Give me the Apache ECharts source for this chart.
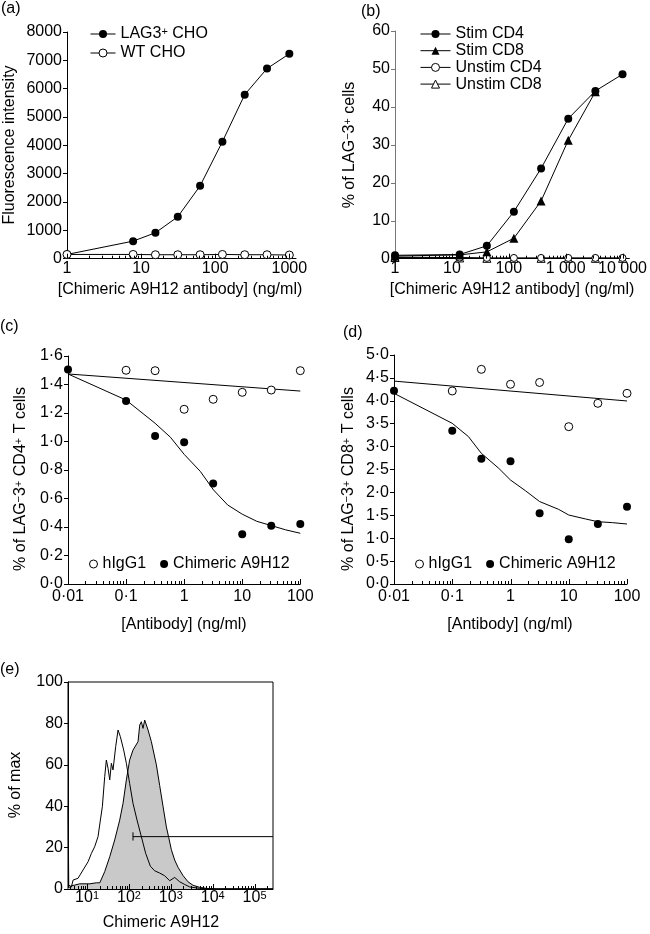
<!DOCTYPE html>
<html><head><meta charset="utf-8">
<script src="https://cdn.jsdelivr.net/npm/echarts@6.0.0/dist/echarts.min.js"></script>
<style>html,body{margin:0;padding:0;background:#fff}#c{width:650px;height:934px}</style>
</head><body><div id="c"></div>
<script>
// ---------- (a) ----------
const aConc = [1, 7.8, 15.6, 31.25, 62.5, 125, 250, 500, 1000];
const aLag3 = [150, 620, 915, 1480, 2570, 4130, 5790, 6710, 7230];
const aWT = [150, 150, 140, 140, 140, 150, 140, 140, 130];
const aXLabels = ['1', '10', '100', '1000'];
const aYLabels = ['0', '1000', '2000', '3000', '4000', '5000', '6000', '7000', '8000'];
// ---------- (b) ----------
const bConc = [1, 13.7, 41.2, 123, 370, 1111, 3333, 10000];
const bStimCD4 = [0.9, 1.1, 3.4, 12.4, 23.8, 36.9, 44.2, 48.6];
const bStimCD8 = [0.7, 1.0, 1.8, 5.4, 15.2, 31.2, 44.0, null];
const bUnstimCD4 = [0.4, 0.3, 0.2, 0.2, 0.2, 0.2, 0.2, 0.2];
const bUnstimCD8 = [0.3, 0.2, 0.1, 0.1, 0.1, 0.1, 0.1, 0.1];
const bXLabels = ['1', '10', '100', '1 000', '10 000'];
const bYLabels = ['0', '10', '20', '30', '40', '50', '60'];
// ---------- (c) / (d) ----------
const cdConc = [0.01, 0.1, 0.316, 1, 3.16, 10, 31.6, 100];
const cIgG = [null, 1.50, 1.497, 1.226, 1.296, 1.345, 1.361, 1.497];
const cChim = [1.506, 1.284, 1.039, 0.994, 0.706, 0.349, 0.409, 0.421];
const cFitX = [0.01, 0.1, 0.316, 0.58, 1.0, 1.9, 3.2, 5.6, 10, 17.8, 31.6, 56, 100];
const cFitChim = [1.474, 1.291, 1.128, 1.03, 0.91, 0.79, 0.66, 0.555, 0.49, 0.44, 0.41, 0.38, 0.356];
const cFitIgGX = [0.01, 100];
const cFitIgG = [1.474, 1.354];
const dIgG = [null, 4.214, 4.687, 4.36, 4.40, 3.435, 3.945, 4.163];
const dChim = [4.221, 3.348, 2.737, 2.678, 1.543, 0.975, 1.31, 1.688];
const dFitX = [0.01, 0.1, 0.19, 0.316, 0.63, 1, 1.8, 3.16, 6.7, 10, 19.4, 31.6, 56, 100];
const dFitChim = [4.163, 3.508, 3.217, 2.853, 2.525, 2.27, 2.038, 1.80, 1.63, 1.506, 1.42, 1.36, 1.34, 1.31];
const dFitIgGX = [0.01, 100];
const dFitIgG = [4.43, 3.996];
const cdXLabels = ['0·01', '0·1', '1', '10', '100'];
const cYLabels = ['0·0', '0·2', '0·4', '0·6', '0·8', '1·0', '1·2', '1·4', '1·6'];
const dYLabels = ['0·0', '0·5', '1·0', '1·5', '2·0', '2·5', '3·0', '3·5', '4·0', '4·5', '5·0'];
// ---------- (e) ----------
const eOpenX = [3.53, 3.65, 4.23, 4.63, 6.10, 8.03, 10.6, 12.7, 15.2, 18.3, 20.8, 23.2, 26.4, 28.9, 31.7, 34.8, 38.1, 41.7, 48.3, 55.0, 62.4, 75.0, 86.8, 104, 125, 156, 198, 251, 325, 412, 542, 714, 940, 1237, 1628, 2143, 2820, 4885, 12210, 274900];
const eOpenY = [40, 2, 1, 4.3, 5.2, 9.2, 13.2, 17.2, 20.4, 25.3, 33.3, 39.8, 54.3, 62.3, 58.3, 52.7, 60.7, 57.5, 68.8, 76.8, 73.6, 67.1, 60.7, 51, 41.4, 33.3, 25.3, 17.2, 11, 8.8, 7.7, 6.4, 4, 5.6, 3.5, 2.2, 1, 0.3, 0, 0];
const eGrayX = [3.53, 4.23, 6.68, 11.6, 16.7, 20.1, 26.4, 34.8, 45.7, 60.2, 72.3, 86.8, 104, 125, 165, 181, 198, 217, 238, 261, 286, 343, 452, 542, 651, 783, 889, 1030, 1237, 1485, 1956, 2574, 3388, 4885, 7047, 12210, 274900];
const eGrayY = [0.5, 1.5, 2.5, 2.5, 3, 3, 8.4, 15.6, 23.7, 33.3, 41.4, 52.7, 62.3, 67.1, 71.2, 79.2, 80.8, 77.6, 81.6, 82.4, 76.8, 71.2, 60, 50, 40, 30, 25, 19, 14, 10.5, 6.5, 3.5, 1.8, 0.8, 0.3, 0, 0];
const eGateX = [125, 274900];
const eGateY = [25.3, 25.3];
const eGateTickX = [125, 125];
const eGateTickY = [23.4, 27.4];
const eXExponents = ['1', '2', '3', '4', '5'];
const eYLabels = ['0', '20', '40', '60', '80', '100'];

// ---------- build ----------
const FF = 'Liberation Sans';
const FS = 16;
const L = Math.log10;
const SUP = { fontSize: 11, lineHeight: 6, verticalAlign: 'top' };

function pts(xs, ys) {
  const out = [];
  xs.forEach((x, i) => { if (ys[i] != null) out.push([L(x), ys[i]]); });
  return out;
}
function logTicks(lo, hi) {
  const maj = [], min = [];
  for (let d = Math.floor(lo); d <= Math.ceil(hi); d++) {
    if (d >= lo - 1e-9 && d <= hi + 1e-9) maj.push(d);
    for (let k = 2; k < 10; k++) { const v = d + L(k); if (v >= lo && v <= hi) min.push(v); }
  }
  return { maj, min };
}
function xMain(gi, lo, hi, fmt, margin, rich) {
  const t = logTicks(lo, hi);
  return {
    type: 'value', gridIndex: gi, position: 'bottom', min: lo, max: hi,
    axisLine: { show: true, onZero: false, lineStyle: { color: '#000', width: 1 } },
    axisTick: { show: false },
    axisLabel: { customValues: t.maj, formatter: fmt, margin: margin, color: '#000', fontSize: FS, fontFamily: FF, rich: rich },
    splitLine: { show: false }
  };
}
// x-axis tick marks (inward, major + minor on the log scale) drawn through the axis scale
function tickSeries(gi, lo, hi, yBase) {
  const t = logTicks(lo, hi);
  const data = t.maj.map(v => [v, yBase, 5]).concat(t.min.map(v => [v, yBase, 3]));
  return {
    type: 'custom', xAxisIndex: gi, yAxisIndex: gi, data: data, clip: false, silent: true, z: 5,
    encode: { x: 0, y: 1 },
    renderItem: (params, api) => {
      const p = api.coord([api.value(0), api.value(1)]);
      const len = api.value(2);
      const x = Math.round(p[0]) + 0.5;
      return { type: 'line', shape: { x1: x, y1: p[1], x2: x, y2: p[1] - len }, style: { stroke: '#000', lineWidth: 1 } };
    }
  };
}
function yAx(gi, lo, hi, step, labels, color) {
  return {
    type: 'value', gridIndex: gi, min: lo, max: hi, interval: step,
    axisLine: { show: true, onZero: false, lineStyle: { color: color || '#000', width: 1 } },
    axisTick: { show: true, inside: false, length: 4, lineStyle: { color: color || '#000' } },
    axisLabel: { formatter: v => labels[Math.round((v - lo) / step)], margin: 5, color: '#000', fontSize: FS, fontFamily: FF },
    splitLine: { show: false }
  };
}
const filled = { color: '#000', borderColor: '#000', borderWidth: 0, opacity: 1 };
const open = { color: '#fff', borderColor: '#000', borderWidth: 1, opacity: 1 };
const ln = { color: '#000', width: 1 };
function lineS(name, xi, data, symbol, size, style, z) {
  return { type: 'line', name: name, xAxisIndex: xi, yAxisIndex: xi, data: data, symbol: symbol, symbolSize: size,
    showSymbol: true, lineStyle: ln, itemStyle: style, z: z || 2, silent: true };
}
function fitS(xi, data) {
  return { type: 'line', xAxisIndex: xi, yAxisIndex: xi, data: data, symbol: 'none', lineStyle: ln, z: 1, silent: true };
}
function scatS(name, xi, data, style) {
  return { type: 'scatter', name: name, xAxisIndex: xi, yAxisIndex: xi, data: data, symbol: 'circle', symbolSize: 8, itemStyle: style, z: 3, silent: true };
}

const xAxes = [
  xMain(0, 0, 3.09, v => aXLabels[Math.round(v)], 2),
  xMain(1, 0, 4.12, v => bXLabels[Math.round(v)], 2),
  xMain(2, -2, 2, v => cdXLabels[Math.round(v) + 2], 5),
  xMain(3, -2, 2, v => cdXLabels[Math.round(v) + 2], 5),
  xMain(4, 0.545, 5.44, v => '{b|10}{s|' + eXExponents[Math.round(v) - 1] + '}', 1, { b: { fontSize: FS }, s: SUP })
];
const yAxes = [
  yAx(0, 0, 8000, 1000, aYLabels),
  yAx(1, 0, 60, 10, bYLabels, '#777'),
  yAx(2, 0, 1.6, 0.2, cYLabels),
  yAx(3, 0, 5, 0.5, dYLabels),
  yAx(4, 0, 100, 20, eYLabels)
];

const series = [
  lineS('LAG3+ CHO', 0, pts(aConc, aLag3), 'circle', 8, filled, 2),
  lineS('WT CHO', 0, pts(aConc, aWT), 'circle', 8, open, 3),
  lineS('Unstim CD8', 1, pts(bConc, bUnstimCD8), 'triangle', 8, open, 2),
  lineS('Unstim CD4', 1, pts(bConc, bUnstimCD4), 'circle', 7, open, 2),
  lineS('Stim CD8', 1, pts(bConc, bStimCD8), 'triangle', 9, filled, 3),
  lineS('Stim CD4', 1, pts(bConc, bStimCD4), 'circle', 8, filled, 4),
  fitS(2, pts(cFitIgGX, cFitIgG)), fitS(2, pts(cFitX, cFitChim)),
  scatS('hIgG1', 2, pts(cdConc, cIgG), open), scatS('Chimeric A9H12', 2, pts(cdConc, cChim), filled),
  fitS(3, pts(dFitIgGX, dFitIgG)), fitS(3, pts(dFitX, dFitChim)),
  scatS('hIgG1', 3, pts(cdConc, dIgG), open), scatS('Chimeric A9H12', 3, pts(cdConc, dChim), filled),
  { type: 'line', xAxisIndex: 4, yAxisIndex: 4, data: pts(eGrayX, eGrayY), symbol: 'none', lineStyle: ln,
    areaStyle: { color: '#c9c9c9', opacity: 1 }, z: 1, silent: true },
  { type: 'line', xAxisIndex: 4, yAxisIndex: 4, data: pts(eOpenX, eOpenY), symbol: 'none', lineStyle: ln, z: 2, silent: true },
  { type: 'line', xAxisIndex: 4, yAxisIndex: 4, data: pts(eGateX, eGateY), symbol: 'none', lineStyle: ln, z: 3, silent: true },
  { type: 'line', xAxisIndex: 4, yAxisIndex: 4, data: pts(eGateTickX, eGateTickY), symbol: 'none', lineStyle: ln, z: 3, silent: true },
  tickSeries(0, 0, 3.09, 0), tickSeries(1, 0, 4.12, 0), tickSeries(2, -2, 2, 0), tickSeries(3, -2, 2, 0), tickSeries(4, 0.545, 5.44, 0)
];

const legTxt = { fontSize: FS, fontFamily: FF, color: '#000' };
const legends = [
  { left: 90, top: 26, orient: 'vertical', itemWidth: 25, itemHeight: 10, itemGap: 3, padding: 0, selectedMode: false,
    textStyle: Object.assign({ lineHeight: 16, rich: { s: SUP } }, legTxt),
    formatter: n => n === 'LAG3+ CHO' ? 'LAG3{s|+} CHO' : n,
    data: [{ name: 'LAG3+ CHO', itemStyle: filled, lineStyle: ln }, { name: 'WT CHO', itemStyle: open, lineStyle: ln }] },
  { left: 420, top: 26, orient: 'vertical', itemWidth: 30, itemHeight: 10, itemGap: 0.7, padding: 0, selectedMode: false,
    textStyle: Object.assign({ lineHeight: 14 }, legTxt),
    data: [{ name: 'Stim CD4', itemStyle: filled, lineStyle: ln }, { name: 'Stim CD8', itemStyle: filled, lineStyle: ln },
           { name: 'Unstim CD4', itemStyle: open, lineStyle: ln }, { name: 'Unstim CD8', itemStyle: open, lineStyle: ln }] },
  { left: 89, top: 556, orient: 'horizontal', itemWidth: 8, itemHeight: 8, itemGap: 14, padding: 0, selectedMode: false,
    textStyle: Object.assign({ lineHeight: 16 }, legTxt),
    data: [{ name: 'hIgG1', icon: 'circle', itemStyle: open }, { name: 'Chimeric A9H12', icon: 'circle', itemStyle: filled }] },
  { left: 415, top: 556, orient: 'horizontal', itemWidth: 8, itemHeight: 8, itemGap: 14, padding: 0, selectedMode: false,
    textStyle: Object.assign({ lineHeight: 16 }, legTxt),
    data: [{ name: 'hIgG1', icon: 'circle', itemStyle: open }, { name: 'Chimeric A9H12', icon: 'circle', itemStyle: filled }] }
];

const texts = [
  ['(a)', 1, 9, 'left', 0], ['(b)', 361, 12, 'left', 0], ['(c)', 0, 327, 'left', 0], ['(d)', 343, 333, 'left', 0], ['(e)', 0, 670, 'left', 0],
  ['[Chimeric A9H12 antibody] (ng/ml)', 180, 290, 'center', 0],
  ['Fluorescence intensity', 10, 145, 'center', 1],
  ['[Chimeric A9H12 antibody] (ng/ml)', 512, 290, 'center', 0],
  ['% of LAG{s|−}3{s|+} cells', 350, 145, 'center', 1],
  ['% of LAG{s|−}3{s|+} CD4{s|+} T cells', 21, 479, 'center', 1],
  ['[Antibody] (ng/ml)', 184, 625, 'center', 0],
  ['% of LAG{s|−}3{s|+} CD8{s|+} T cells', 349, 479, 'center', 1],
  ['[Antibody] (ng/ml)', 510, 625, 'center', 0],
  ['% of max', 16, 785, 'center', 1],
  ['Chimeric A9H12', 161, 923, 'center', 0]
];
const graphic = texts.map(t => ({
  type: 'text', x: t[1], y: t[2], rotation: t[4] ? Math.PI / 2 : 0, silent: true,
  style: { text: t[0], fontSize: FS, fontFamily: FF, fill: '#000', align: t[3], verticalAlign: 'middle', rich: { s: SUP } }
}));

const option = {
  animation: false,
  backgroundColor: '#fff',
  textStyle: { fontFamily: FF, color: '#000' },
  grid: [
    { left: 67, top: 32, width: 229, height: 226.7 },
    { left: 395, top: 31, width: 238.5, height: 227.7 },
    { left: 68, top: 356, width: 232.3, height: 228 },
    { left: 394, top: 355, width: 233, height: 229 },
    { left: 68, top: 682, width: 205, height: 207, show: true, borderColor: '#000', borderWidth: 1, backgroundColor: 'transparent' }
  ],
  xAxis: xAxes,
  yAxis: yAxes,
  legend: legends,
  series: series,
  graphic: graphic
};
const chart = echarts.init(document.getElementById('c'), null, { renderer: 'canvas', width: 650, height: 934 });
chart.setOption(option);
</script></body></html>
